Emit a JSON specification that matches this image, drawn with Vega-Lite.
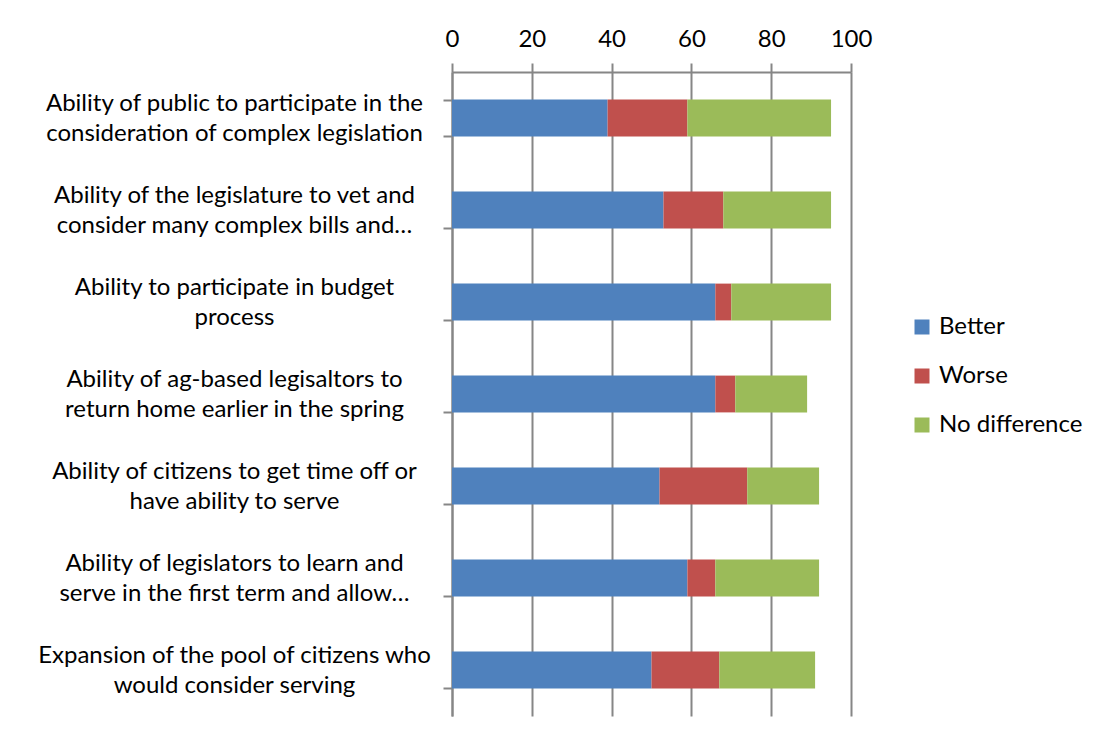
{
  "$schema": "https://vega.github.io/schema/vega-lite/v6.json",
  "autosize": "none",
  "width": 399,
  "height": 644,
  "padding": {"left": 452, "top": 72, "right": 247, "bottom": 27},
  "background": "white",
  "config": {
    "font": "Lato",
    "view": {"stroke": null},
    "axis": {"labelFont": "Lato", "labelColor": "black", "domainColor": "#868686", "tickColor": "#868686", "gridColor": "#868686"}
  },
  "data": {
    "values": [
      {"item": "Ability of public to participate in the|consideration of complex legislation", "rank": 1, "response": "Better", "ord": 1, "pct": 39},
      {"item": "Ability of public to participate in the|consideration of complex legislation", "rank": 1, "response": "Worse", "ord": 2, "pct": 20},
      {"item": "Ability of public to participate in the|consideration of complex legislation", "rank": 1, "response": "No difference", "ord": 3, "pct": 36},
      {"item": "Ability of the legislature to vet and|consider many complex bills and…", "rank": 2, "response": "Better", "ord": 1, "pct": 53},
      {"item": "Ability of the legislature to vet and|consider many complex bills and…", "rank": 2, "response": "Worse", "ord": 2, "pct": 15},
      {"item": "Ability of the legislature to vet and|consider many complex bills and…", "rank": 2, "response": "No difference", "ord": 3, "pct": 27},
      {"item": "Ability to participate in budget|process", "rank": 3, "response": "Better", "ord": 1, "pct": 66},
      {"item": "Ability to participate in budget|process", "rank": 3, "response": "Worse", "ord": 2, "pct": 4},
      {"item": "Ability to participate in budget|process", "rank": 3, "response": "No difference", "ord": 3, "pct": 25},
      {"item": "Ability of ag-based legisaltors to|return home earlier in the spring", "rank": 4, "response": "Better", "ord": 1, "pct": 66},
      {"item": "Ability of ag-based legisaltors to|return home earlier in the spring", "rank": 4, "response": "Worse", "ord": 2, "pct": 5},
      {"item": "Ability of ag-based legisaltors to|return home earlier in the spring", "rank": 4, "response": "No difference", "ord": 3, "pct": 18},
      {"item": "Ability of citizens to get time off or|have ability to serve", "rank": 5, "response": "Better", "ord": 1, "pct": 52},
      {"item": "Ability of citizens to get time off or|have ability to serve", "rank": 5, "response": "Worse", "ord": 2, "pct": 22},
      {"item": "Ability of citizens to get time off or|have ability to serve", "rank": 5, "response": "No difference", "ord": 3, "pct": 18},
      {"item": "Ability of legislators to learn and|serve in the first term and allow…", "rank": 6, "response": "Better", "ord": 1, "pct": 59},
      {"item": "Ability of legislators to learn and|serve in the first term and allow…", "rank": 6, "response": "Worse", "ord": 2, "pct": 7},
      {"item": "Ability of legislators to learn and|serve in the first term and allow…", "rank": 6, "response": "No difference", "ord": 3, "pct": 26},
      {"item": "Expansion of the pool of citizens who|would consider serving", "rank": 7, "response": "Better", "ord": 1, "pct": 50},
      {"item": "Expansion of the pool of citizens who|would consider serving", "rank": 7, "response": "Worse", "ord": 2, "pct": 17},
      {"item": "Expansion of the pool of citizens who|would consider serving", "rank": 7, "response": "No difference", "ord": 3, "pct": 24}
    ]
  },
  "mark": {"type": "bar"},
  "encoding": {
    "y": {
      "field": "item",
      "type": "nominal",
      "sort": {"field": "rank", "op": "min", "order": "ascending"},
      "scale": {"paddingInner": 0.6, "paddingOuter": 0.3},
      "axis": {
        "title": null,
        "orient": "left",
        "tickBand": "extent",
        "tickSize": 9,
        "tickWidth": 2,
        "domainWidth": 2,
        "grid": false,
        "labelExpr": "split(datum.label, '|')",
        "labelAlign": "center",
        "labelBaseline": "middle",
        "labelOffset": -15,
        "labelPadding": 209,
        "labelFontSize": 24,
        "labelLineHeight": 30,
        "labelLimit": 0
      }
    },
    "x": {
      "field": "pct",
      "type": "quantitative",
      "stack": "zero",
      "scale": {"domain": [0, 100], "nice": false},
      "axis": {
        "title": null,
        "orient": "top",
        "values": [0, 20, 40, 60, 80, 100],
        "tickSize": 9,
        "tickWidth": 2,
        "domainWidth": 2,
        "gridWidth": 2,
        "labelFontSize": 24,
        "labelPadding": 12,
        "labelFlush": false
      }
    },
    "color": {
      "field": "response",
      "type": "nominal",
      "sort": ["Better", "Worse", "No difference"],
      "scale": {"domain": ["Better", "Worse", "No difference"], "range": ["#4F81BD", "#C0504D", "#9BBB59"]},
      "legend": {
        "title": null,
        "orient": "none",
        "legendX": 458,
        "legendY": 243,
        "symbolType": "square",
        "symbolSize": 225,
        "symbolStrokeWidth": 0,
        "symbolOpacity": 1,
        "labelFontSize": 24,
        "labelFont": "Lato",
        "labelColor": "black",
        "rowPadding": 25,
        "labelOffset": 5
      }
    },
    "order": {"field": "ord", "type": "quantitative"}
  }
}
